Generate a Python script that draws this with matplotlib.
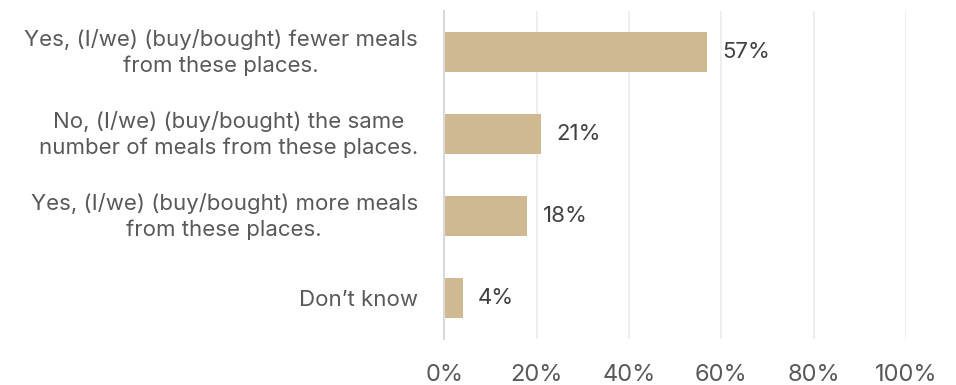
import matplotlib
matplotlib.use("Agg")
from matplotlib import pyplot as plt
from matplotlib.ticker import PercentFormatter
from matplotlib.transforms import ScaledTranslation

# 回答カテゴリと割合
categories = [
    "Yes, (I/we) (buy/bought) fewer meals\nfrom these places.",
    "No, (I/we) (buy/bought) the same\nnumber of meals from these places.",
    "Yes, (I/we) (buy/bought) more meals\nfrom these places.",
    "Don\u2019t know",
]
values = [57, 21, 18, 4]
xticks = [0, 20, 40, 60, 80, 100]

plt.rcParams['font.family'] = ['Inter', 'DejaVu Sans']

fig = plt.figure(figsize=(9.56, 3.85), dpi=100)
ax = fig.add_axes([444.3 / 956, 46 / 385, (906 - 444.3) / 956, 328 / 385])

y = list(range(len(categories)))
ax.barh(y, values, height=0.49, color="#CFB991", zorder=3)

# バーの右に値を表示する
for yi, v in zip(y, values):
    ax.annotate("{}%".format(v), xy=(v, yi), xytext=(11, 0), textcoords="offset points",
                va="center", ha="left", fontsize=16, color="#404040")

ax.set_xlim(0, 100)
ax.set_ylim(len(categories) - 0.5, -0.5)
ax.set_xticks(xticks)
ax.xaxis.set_major_formatter(PercentFormatter(decimals=0))
ax.set_yticks(y)
ax.set_yticklabels(categories, ha="right", multialignment="center", fontsize=16,
                   color="#595959", linespacing=1.3)
ax.tick_params(axis="y", length=0, pad=19)
ax.tick_params(axis="x", length=0, pad=18, labelsize=17, labelcolor="#595959")

# 2行のラベルは少し上に寄せる
for lbl in ax.get_yticklabels():
    if "\n" in lbl.get_text():
        lbl.set_transform(lbl.get_transform() + ScaledTranslation(0, 3 / 72, fig.dpi_scale_trans))

ax.grid(axis="x", color="#EBEBEB", linewidth=1.2, zorder=0)
for s in ["top", "right", "bottom"]:
    ax.spines[s].set_visible(False)
ax.spines["left"].set_color("#D9D9D9")
ax.spines["left"].set_linewidth(1.5)
ax.spines["left"].set_zorder(4)

fig.savefig("out.png", dpi=100)
